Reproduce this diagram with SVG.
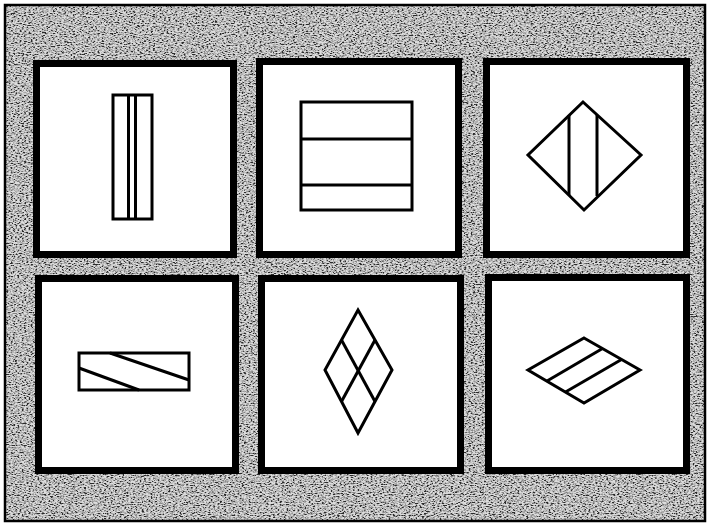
<svg xmlns="http://www.w3.org/2000/svg" width="709" height="525" viewBox="0 0 709 525">
<defs>
<filter id="noise" x="0" y="0" width="100%" height="100%">
<feTurbulence type="fractalNoise" baseFrequency="0.45 0.9" numOctaves="2" seed="3" result="t"/>
<feColorMatrix in="t" type="matrix" values="0 0 0 0 0  0 0 0 0 0  0 0 0 0 0  0 0 0 -3.2 2.0" result="a"/>
<feFlood flood-color="#000"/>
<feComposite in2="a" operator="in" result="dots"/>
<feFlood flood-color="#ffffff" result="w"/>
<feMerge><feMergeNode in="w"/><feMergeNode in="dots"/></feMerge>
</filter>
<style>
.panel{fill:#fff;stroke:#000;stroke-width:7}
.fig{fill:none;stroke:#000;stroke-width:3;stroke-linejoin:miter}
</style>
</defs>
<rect x="0" y="0" width="709" height="525" fill="#fff"/>
<rect x="5" y="5" width="700" height="516" fill="#8e8e8e"/>
<rect x="5" y="5" width="700" height="516" filter="url(#noise)" opacity="0.7"/>
<rect x="5" y="5" width="700" height="516" fill="none" stroke="#000" stroke-width="2.5"/>

<g id="panel1">
<rect class="panel" x="36.5" y="63.5" width="197" height="191"/>
<rect class="fig" x="113" y="95" width="39" height="124"/>
<line class="fig" x1="128.5" y1="95" x2="128.5" y2="219"/>
<line class="fig" x1="135.5" y1="95" x2="135.5" y2="219"/>
</g>

<g id="panel2">
<rect class="panel" x="259.5" y="61.5" width="199" height="193"/>
<rect class="fig" x="301" y="102" width="111" height="108"/>
<line class="fig" x1="301" y1="139" x2="412" y2="139"/>
<line class="fig" x1="301" y1="185" x2="412" y2="185"/>
</g>

<g id="panel3">
<rect class="panel" x="486.5" y="61.5" width="200" height="193"/>
<polygon class="fig" points="583,102 641,155 584,210 528,155"/>
<line class="fig" x1="569" y1="115" x2="569" y2="195"/>
<line class="fig" x1="597" y1="115" x2="597" y2="196"/>
</g>

<g id="panel4">
<rect class="panel" x="38.5" y="278.5" width="197" height="192"/>
<rect class="fig" x="79" y="353" width="110" height="37"/>
<line class="fig" x1="79" y1="368" x2="139" y2="390"/>
<line class="fig" x1="110" y1="353" x2="189" y2="380"/>
</g>

<g id="panel5">
<rect class="panel" x="261.5" y="278.5" width="199" height="192"/>
<polygon class="fig" points="358,310 392,370 358,433 325,370"/>
<line class="fig" x1="341.5" y1="340" x2="375" y2="401.5"/>
<line class="fig" x1="375" y1="340" x2="341.5" y2="401.5"/>
</g>

<g id="panel6">
<rect class="panel" x="488.5" y="277.5" width="198" height="193"/>
<polygon class="fig" points="584,338 640,370 584,403 528,370"/>
<line class="fig" x1="547" y1="381" x2="602.5" y2="348.5"/>
<line class="fig" x1="565.5" y1="392" x2="621.5" y2="359.5"/>
</g>
</svg>
